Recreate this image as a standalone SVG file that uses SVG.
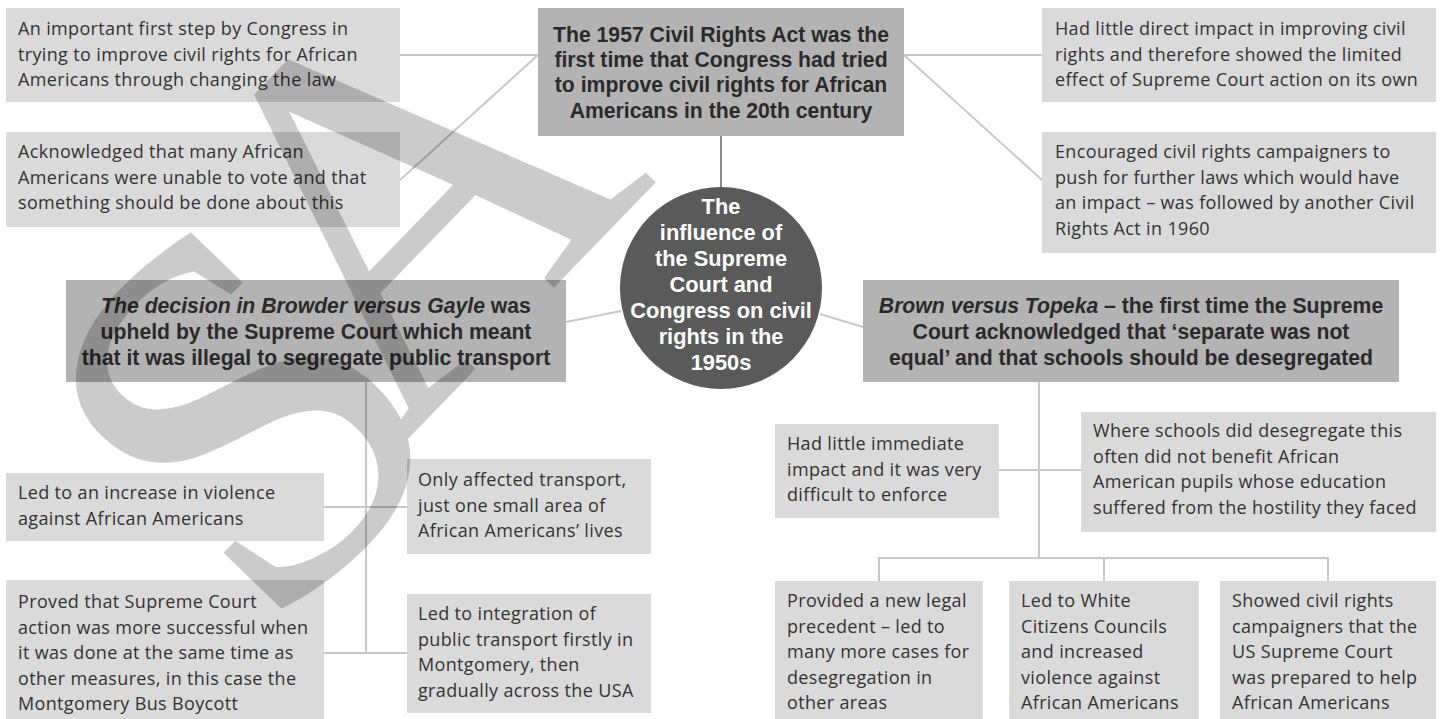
<svg xmlns="http://www.w3.org/2000/svg" width="1444" height="719" viewBox="0 0 1444 719">
<style>
.box{fill:#dadada}
.hdr{fill:#b3b3b3}
.t{font-family:"Open Sans","Noto Sans",sans-serif;font-size:18px;letter-spacing:0.35px;fill:#333}
.b{font-family:"Liberation Sans",Arial,sans-serif;font-weight:bold;font-size:21.2px;fill:#2a2a2a;text-anchor:middle}
.c{font-size:21.8px;fill:#fff}
.ln{stroke:#c8c8c8;stroke-width:2;fill:none}
.wm{font-family:"Liberation Serif","Times New Roman",serif;font-size:530px;fill:#000;opacity:0.2}
</style>
<rect width="1444" height="719" fill="#fff"/>
<g id="connectors">
<path class="ln" d="M721 136V190" style="stroke:#8c8c8c"/>
<path class="ln" d="M400 55H538M400 180L538 55M904 55H1042M904 55L1042 180"/>
<path class="ln" d="M566 322L621 311M820 314L863 327"/>
<path class="ln" d="M366 382V653M324 507H407M324 653H407"/>
<path class="ln" d="M1039 382V558M999 470H1081M879 581V558H1328V581M1104 558V581"/>
</g>
<g id="top">
<rect class="hdr" x="538" y="8" width="366" height="128"/>
<text class="b"><tspan x="721" y="42">The 1957 Civil Rights Act was the</tspan><tspan x="721" y="67">first time that Congress had tried</tspan><tspan x="721" y="92">to improve civil rights for African</tspan><tspan x="721" y="117.5">Americans in the 20th century</tspan></text>
</g>
<g id="center">
<circle cx="721" cy="288" r="101" fill="#5a5a5a"/>
<text class="b c"><tspan x="721" y="214">The</tspan><tspan x="721" y="240">influence of</tspan><tspan x="721" y="266">the Supreme</tspan><tspan x="721" y="292">Court and</tspan><tspan x="721" y="318">Congress on civil</tspan><tspan x="721" y="344">rights in the</tspan><tspan x="721" y="370">1950s</tspan></text>
</g>
<g id="a1">
<rect class="box" x="6" y="8" width="394" height="94"/>
<text class="t"><tspan x="18" y="35">An important first step by Congress in</tspan><tspan x="18" y="60.5">trying to improve civil rights for African</tspan><tspan x="18" y="86">Americans through changing the law</tspan></text>
</g>
<g id="a2">
<rect class="box" x="6" y="132" width="394" height="95"/>
<text class="t"><tspan x="18" y="158">Acknowledged that many African</tspan><tspan x="18" y="183.5">Americans were unable to vote and that</tspan><tspan x="18" y="209">something should be done about this</tspan></text>
</g>
<g id="r1">
<rect class="box" x="1042" y="8" width="394" height="94"/>
<text class="t"><tspan x="1055" y="35">Had little direct impact in improving civil</tspan><tspan x="1055" y="60.5">rights and therefore showed the limited</tspan><tspan x="1055" y="86">effect of Supreme Court action on its own</tspan></text>
</g>
<g id="r2">
<rect class="box" x="1042" y="132" width="394" height="121"/>
<text class="t"><tspan x="1055" y="158">Encouraged civil rights campaigners to</tspan><tspan x="1055" y="183.5">push for further laws which would have</tspan><tspan x="1055" y="209">an impact – was followed by another Civil</tspan><tspan x="1055" y="234.5">Rights Act in 1960</tspan></text>
</g>
<g id="browder">
<rect class="hdr" x="66" y="280" width="500" height="102"/>
<text class="b"><tspan x="316" y="313"><tspan font-style="italic">The decision in Browder versus Gayle</tspan> was</tspan><tspan x="316" y="339">upheld by the Supreme Court which meant</tspan><tspan x="316" y="365">that it was illegal to segregate public transport</tspan></text>
</g>
<g id="brown">
<rect class="hdr" x="863" y="280" width="536" height="102"/>
<text class="b"><tspan x="1131" y="313"><tspan font-style="italic">Brown versus Topeka</tspan> – the first time the Supreme</tspan><tspan x="1131" y="339">Court acknowledged that ‘separate was not</tspan><tspan x="1131" y="365">equal’ and that schools should be desegregated</tspan></text>
</g>
<g id="l1">
<rect class="box" x="6" y="473" width="318" height="68"/>
<text class="t"><tspan x="18" y="499">Led to an increase in violence</tspan><tspan x="18" y="524.5">against African Americans</tspan></text>
</g>
<g id="l2">
<rect class="box" x="6" y="580" width="318" height="139"/>
<text class="t"><tspan x="18" y="608">Proved that Supreme Court</tspan><tspan x="18" y="633.5">action was more successful when</tspan><tspan x="18" y="659">it was done at the same time as</tspan><tspan x="18" y="684.5">other measures, in this case the</tspan><tspan x="18" y="710">Montgomery Bus Boycott</tspan></text>
</g>
<g id="m1">
<rect class="box" x="407" y="459" width="244" height="95"/>
<text class="t"><tspan x="418" y="486">Only affected transport,</tspan><tspan x="418" y="511.5">just one small area of</tspan><tspan x="418" y="537">African Americans’ lives</tspan></text>
</g>
<g id="m2">
<rect class="box" x="407" y="594" width="244" height="119"/>
<text class="t"><tspan x="418" y="620">Led to integration of</tspan><tspan x="418" y="645.5">public transport firstly in</tspan><tspan x="418" y="671">Montgomery, then</tspan><tspan x="418" y="696.5">gradually across the USA</tspan></text>
</g>
<g id="b1">
<rect class="box" x="775" y="424" width="224" height="94"/>
<text class="t"><tspan x="787" y="450">Had little immediate</tspan><tspan x="787" y="475.5">impact and it was very</tspan><tspan x="787" y="501">difficult to enforce</tspan></text>
</g>
<g id="b2">
<rect class="box" x="1081" y="412" width="355" height="120"/>
<text class="t"><tspan x="1093" y="437">Where schools did desegregate this</tspan><tspan x="1093" y="462.5">often did not benefit African</tspan><tspan x="1093" y="488">American pupils whose education</tspan><tspan x="1093" y="513.5">suffered from the hostility they faced</tspan></text>
</g>
<g id="c1">
<rect class="box" x="775" y="581" width="208" height="138"/>
<text class="t"><tspan x="787" y="607">Provided a new legal</tspan><tspan x="787" y="632.5">precedent – led to</tspan><tspan x="787" y="658">many more cases for</tspan><tspan x="787" y="683.5">desegregation in</tspan><tspan x="787" y="709">other areas</tspan></text>
</g>
<g id="c2">
<rect class="box" x="1009" y="581" width="190" height="138"/>
<text class="t"><tspan x="1021" y="607">Led to White</tspan><tspan x="1021" y="632.5">Citizens Councils</tspan><tspan x="1021" y="658">and increased</tspan><tspan x="1021" y="683.5">violence against</tspan><tspan x="1021" y="709">African Americans</tspan></text>
</g>
<g id="c3">
<rect class="box" x="1220" y="581" width="216" height="138"/>
<text class="t"><tspan x="1232" y="607">Showed civil rights</tspan><tspan x="1232" y="632.5">campaigners that the</tspan><tspan x="1232" y="658">US Supreme Court</tspan><tspan x="1232" y="683.5">was prepared to help</tspan><tspan x="1232" y="709">African Americans</tspan></text>
</g>
<text class="wm" transform="translate(178 677) rotate(-46)"><tspan x="85" y="40">S</tspan><tspan x="309" y="0">A</tspan></text>
</svg>
